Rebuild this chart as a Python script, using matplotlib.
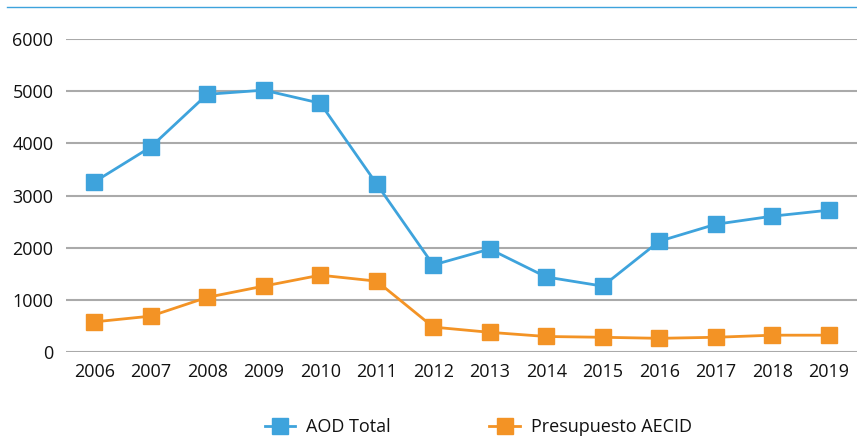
import matplotlib.pyplot as plt
from matplotlib.lines import Line2D

years = ['2006', '2007', '2008', '2009', '2010', '2011', '2012',
         '2013', '2014', '2015', '2016', '2017', '2018', '2019']
aod_total = [3260, 3930, 4940, 5020, 4770, 3220, 1670,
             1975, 1440, 1265, 2125, 2450, 2605, 2720]
presupuesto_aecid = [580, 690, 1050, 1265, 1475, 1360, 480,
                     380, 300, 285, 265, 285, 325, 325]
yticks = [0, 1000, 2000, 3000, 4000, 5000, 6000]

blue = '#3EA3DC'
orange = '#F39325'

plt.rcParams['font.family'] = ['Open Sans', 'DejaVu Sans']

fig = plt.figure(figsize=(8.57, 4.38), dpi=100)
ax = fig.add_axes([0.077, 0.196, 0.923, 0.715])

x = range(len(years))
ax.plot(x, aod_total, color=blue, lw=2, marker='s', markersize=12,
        label='AOD Total', zorder=3)
ax.plot(x, presupuesto_aecid, color=orange, lw=2, marker='s', markersize=12,
        label='Presupuesto AECID', zorder=3)

ax.set_xlim(-0.5, len(years) - 0.5)
ax.set_ylim(0, 6000)
ax.set_yticks(yticks)
ax.set_xticks(list(x))
ax.set_xticklabels(years)
ax.yaxis.grid(True, color='#AAAAAA', lw=1.5)
ax.set_axisbelow(True)
for s in ax.spines.values():
    s.set_visible(False)
ax.tick_params(length=0, labelsize=13, colors='#111111')
ax.tick_params(axis='y', pad=9)
ax.tick_params(axis='x', pad=8)

# thin rule across the top
fig.add_artist(Line2D([0.008, 1.0], [0.984, 0.984], color=blue, lw=1,
                      transform=fig.transFigure))

fig.legend(loc='center', bbox_to_anchor=(0.558, 0.025), ncol=2, frameon=False,
           fontsize=13, handlelength=1.7, handletextpad=0.6, columnspacing=5.45,
           labelcolor='#111111')

fig.savefig('out.png', dpi=100)
